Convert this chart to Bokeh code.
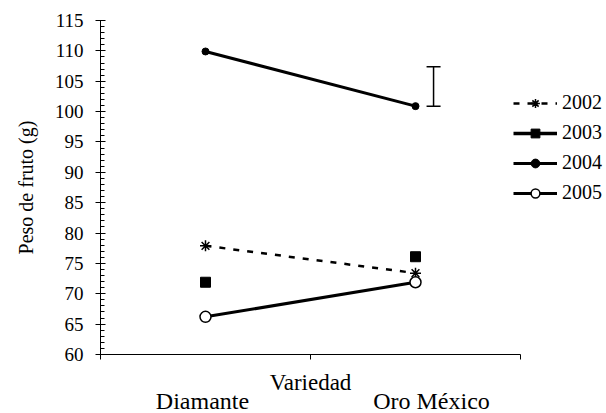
from bokeh.plotting import figure
from bokeh.models import (Range1d, FixedTicker, Label, Legend, LegendItem,
                          Whisker, TeeHead, ColumnDataSource)
from bokeh.embed import file_html
from bokeh.resources import INLINE

# ---- data ----
categories = ["Diamante", "Oro México"]
years = ["2002", "2003", "2004", "2005"]
y2002 = [77.9, 73.4]
y2003 = [71.9, 76.1]
y2004 = [109.9, 100.9]
y2005 = [66.2, 71.9]
err_lower = [100.9]
err_upper = [107.4]
y_ticks = [60, 65, 70, 75, 80, 85, 90, 95, 100, 105, 110, 115]
x_title = "Variedad"
y_title = "Peso de fruto (g)"

FONT = "Liberation Serif"
W, H = 606, 413
# plot area in pixels (left, right, top, bottom)
PL, PR, PT, PB = 100, 520, 20, 354
n = len(categories)
xs = [i + 0.5 for i in range(n)]

ymin, ymax = y_ticks[0], y_ticks[-1]
xpx = (PR - PL) / n
ypx = (PB - PT) / (ymax - ymin)
x_range = Range1d(0 - PL / xpx, n + (W - PR) / xpx)
y_range = Range1d(ymin - (H - PB) / ypx, ymax + PT / ypx)

p = figure(width=W, height=H, output_backend="svg", toolbar_location=None,
           x_range=x_range, y_range=y_range,
           min_border_left=0, min_border_right=0, min_border_top=0, min_border_bottom=0)
p.outline_line_color = None
p.xgrid.visible = False
p.ygrid.visible = False
p.background_fill_color = "white"
p.border_fill_color = "white"

# y axis
ya = p.yaxis[0]
ya.fixed_location = 0
ya.bounds = (ymin, ymax)
ya.ticker = FixedTicker(ticks=y_ticks, minor_ticks=list(range(ymin, ymax + 1)))
ya.major_tick_in = 5
ya.major_tick_out = 5
ya.minor_tick_in = 4
ya.minor_tick_out = 0
ya.axis_line_color = "black"
ya.major_tick_line_color = "black"
ya.minor_tick_line_color = "black"
ya.major_label_text_font = FONT
ya.major_label_text_font_size = "19px"
ya.major_label_text_color = "black"
ya.major_label_standoff = 12
ya.axis_label = y_title
ya.axis_label_text_font = FONT
ya.axis_label_text_font_size = "20px"
ya.axis_label_text_font_style = "normal"
ya.axis_label_text_color = "black"
ya.axis_label_standoff = 15

# x axis (ticks at category boundaries, no tick labels)
xa = p.xaxis[0]
xa.fixed_location = ymin
xa.bounds = (0, n)
xa.ticker = FixedTicker(ticks=[], minor_ticks=list(range(0, n + 1)))
xa.minor_tick_in = 0
xa.minor_tick_out = 5
xa.minor_tick_line_color = "black"
xa.axis_line_color = "black"

# ---- series ----
nan = float("nan")
r02l = p.line(xs, y2002, line_color="black", line_width=2.5, line_dash="6 8")
r02m = p.scatter(xs, y2002, marker="asterisk", size=11, line_color="black", line_width=1.5)

# 2003 has markers only in the plot; this line renderer only feeds the legend swatch
r03l = p.line(xs, [nan] * n, line_color="black", line_width=3.5)
r03m = p.scatter(xs, y2003, marker="square", size=10, fill_color="black", line_color="black")

r04l = p.line(xs, y2004, line_color="black", line_width=3)
r04m = p.scatter(xs, y2004, marker="circle", size=7, fill_color="black", line_color="black")

r05l = p.line(xs, y2005, line_color="black", line_width=3)
r05m = p.scatter(xs, y2005, marker="circle", size=11, fill_color="white", line_color="black",
                 line_width=1.5)

# error bar
src = ColumnDataSource(dict(base=[xs[-1] + 0.086], lower=err_lower, upper=err_upper))
wh = Whisker(source=src, base="base", lower="lower", upper="upper", dimension="height",
             line_color="black", line_width=1.5,
             upper_head=TeeHead(size=14, line_color="black", line_width=1.5),
             lower_head=TeeHead(size=14, line_color="black", line_width=1.5))
p.add_layout(wh)

# legend
legend = Legend(items=[
    LegendItem(label=years[0], renderers=[r02l, r02m]),
    LegendItem(label=years[1], renderers=[r03l, r03m]),
    LegendItem(label=years[2], renderers=[r04l, r04m]),
    LegendItem(label=years[3], renderers=[r05l, r05m]),
], location=(513, 209), padding=0, margin=0, spacing=7, glyph_width=44,
    glyph_height=22, label_height=20, label_standoff=5,
    label_text_font=FONT, label_text_font_size="20px", label_text_color="black",
    border_line_color=None, background_fill_alpha=0)
p.add_layout(legend)

# x title and category labels
p.add_layout(Label(x=n / 2, y=H - 382, x_units="data", y_units="screen", text=x_title,
                   text_font=FONT, text_font_size="23px", text_color="black",
                   text_align="center", text_baseline="middle"))
offsets = [-3, 16]
for xi, cat, off in zip(xs, categories, offsets):
    p.add_layout(Label(x=xi, y=H - 400, x_units="data", y_units="screen", x_offset=off,
                       text=cat, text_font=FONT, text_font_size="24px", text_color="black",
                       text_align="center", text_baseline="middle"))

open("out.html", "w").write(file_html(p, INLINE))
